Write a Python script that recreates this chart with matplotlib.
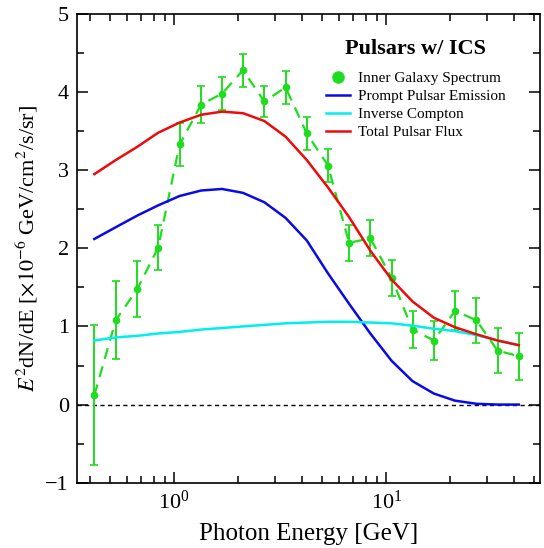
import matplotlib
matplotlib.use("Agg")
import matplotlib.pyplot as plt
from matplotlib.lines import Line2D
from matplotlib.ticker import MultipleLocator

plt.rcParams['font.family'] = ['Liberation Serif', 'DejaVu Serif']
plt.rcParams['mathtext.fontset'] = 'stix'

# photon energies [GeV] of the bins
energy = [0.42, 0.53, 0.67, 0.84, 1.06, 1.34, 1.68, 2.11, 2.66, 3.35, 4.22,
          5.31, 6.68, 8.41, 10.6, 13.3, 16.8, 21.1, 26.6, 33.5, 42.2]

# inner galaxy spectrum and its errors
spectrum = [0.12, 1.08, 1.48, 2.01, 3.33, 3.84, 3.98, 4.28, 3.88, 4.06, 3.47,
            3.06, 2.07, 2.13, 1.62, 0.96, 0.82, 1.20, 1.08, 0.69, 0.62]
spectrum_err = [0.90, 0.50, 0.36, 0.29, 0.27, 0.24, 0.21, 0.21, 0.20, 0.21, 0.21,
                0.21, 0.23, 0.23, 0.23, 0.24, 0.25, 0.25, 0.29, 0.29, 0.30]

# model curves
prompt = [2.12, 2.27, 2.42, 2.55, 2.67, 2.74, 2.76, 2.71, 2.59, 2.39, 2.10,
          1.68, 1.29, 0.91, 0.56, 0.30, 0.14, 0.05, 0.01, 0.0, 0.0]
ics = [0.82, 0.86, 0.88, 0.91, 0.93, 0.96, 0.98, 1.00, 1.02, 1.04, 1.05,
       1.06, 1.06, 1.05, 1.04, 1.01, 0.97, 0.94, 0.89, 0.82, 0.76]
total = [2.95, 3.13, 3.30, 3.48, 3.61, 3.71, 3.75, 3.73, 3.63, 3.43, 3.13,
         2.78, 2.40, 1.97, 1.60, 1.32, 1.11, 0.99, 0.90, 0.82, 0.76]

green = '#1edd1e'

fig = plt.figure(figsize=(5.44, 5.48), dpi=100)
ax = fig.add_axes([0.1421, 0.1192, 0.8505, 0.8553])

# zero line
ax.axhline(0, color='black', lw=1.0, ls=(0, (3, 2.5)), zorder=1)

# data with error bars, joined by a dashed line
ax.errorbar(energy, spectrum, yerr=spectrum_err, fmt='o', color=green, ms=4.5,
            elinewidth=1.4, capsize=3, capthick=1.2, zorder=2)
ax.plot(energy, spectrum, color=green, lw=1.6, ls=(0, (5, 3.5)), zorder=2)

# model curves
ax.plot(energy, prompt, color='#0a0ae6', lw=1.8, zorder=3)
ax.plot(energy, ics, color='#00eeee', lw=1.8, zorder=3)
ax.plot(energy, total, color='#ee0a0a', lw=1.8, zorder=3)

ax.set_xscale('log')
ax.set_xlim(0.349, 53.1)
ax.set_ylim(-1, 5)
ax.yaxis.set_major_locator(MultipleLocator(1))
ax.yaxis.set_minor_locator(MultipleLocator(0.5))

ax.tick_params(which='both', direction='in', top=True, right=True, labelsize=16,
               width=1.1, pad=6)
ax.tick_params(which='major', length=8)
ax.tick_params(which='minor', length=5)
for s in ax.spines.values():
    s.set_linewidth(1.2)

ax.set_xlabel('Photon Energy [GeV]', fontsize=18, labelpad=6)
ax.set_ylabel(r'$E^2$dN/dE [$\times10^{-6}$ GeV/cm$^2$/s/sr]', fontsize=16, labelpad=4)

ax.text(0.73, 0.925, 'Pulsars w/ ICS', transform=ax.transAxes, fontsize=16,
        fontweight='bold', ha='center', va='center')

handles = [
    Line2D([], [], color=green, marker='o', ls='none', ms=8),
    Line2D([], [], color='#0a0ae6', lw=1.8),
    Line2D([], [], color='#00eeee', lw=1.8),
    Line2D([], [], color='#ee0a0a', lw=1.8),
]
labels = ['Inner Galaxy Spectrum', 'Prompt Pulsar Emission', 'Inverse Compton',
          'Total Pulsar Flux']
ax.legend(handles, labels, loc='upper left', bbox_to_anchor=(0.53, 0.884),
          frameon=False, fontsize=11, handlelength=1.6, handletextpad=0.5,
          labelspacing=0.28, borderpad=0.2, borderaxespad=0)

fig.savefig('out.png', dpi=100)
